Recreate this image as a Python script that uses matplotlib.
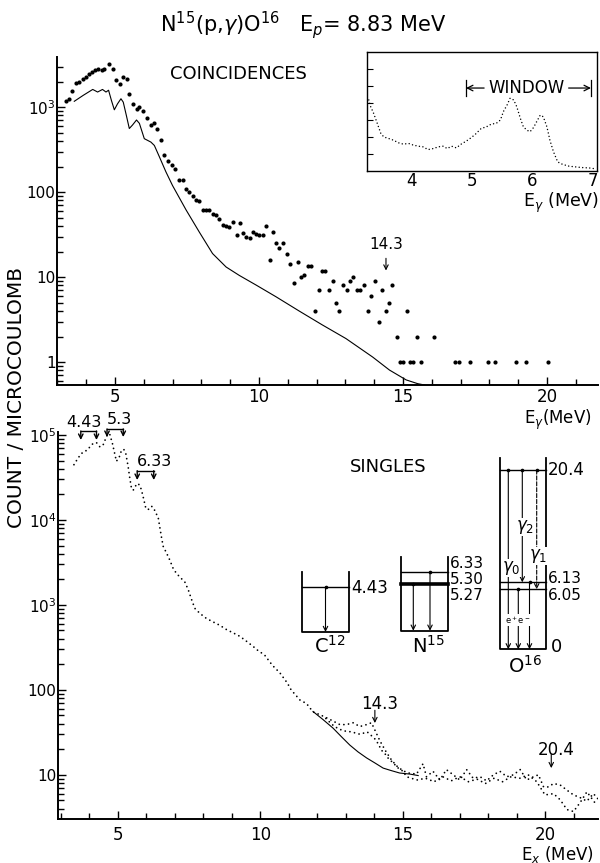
import numpy as np
import matplotlib
matplotlib.use("Agg")
import matplotlib.pyplot as plt
from matplotlib.ticker import MultipleLocator, LogLocator, NullFormatter

plt.rcParams['font.family'] = ['DejaVu Sans']
plt.rcParams['mathtext.fontset'] = 'dejavusans'

# --- coincidence spectrum (top panel), counts per microcoulomb ---
coinc_e = [3.30, 3.40, 3.51, 3.65, 3.76, 3.88, 4.00, 4.09, 4.20, 4.32,
           4.43, 4.55, 4.63, 4.78, 4.92, 5.04, 5.18, 5.29, 5.41, 5.50,
           5.64, 5.75, 5.85, 5.99, 6.10, 6.25, 6.37, 6.45, 6.60, 6.72,
           6.83, 6.98, 7.10, 7.24, 7.35, 7.47, 7.58, 7.70, 7.82, 7.91,
           8.07, 8.16, 8.28, 8.39, 8.51, 8.63, 8.76, 8.86, 8.97, 9.11,
           9.23, 9.34, 9.43, 9.55, 9.69, 9.78, 9.90, 10.01, 10.13, 10.25,
           10.38, 10.50, 10.59, 10.71, 10.82, 10.96, 11.08, 11.23, 11.34, 11.46,
           11.58, 11.69, 11.81, 11.96, 12.07, 12.19, 12.31, 12.42, 12.56, 12.68,
           12.79, 12.91, 13.05, 13.16, 13.28, 13.39, 13.51, 13.63, 13.77, 13.89,
           14.03, 14.16, 14.27, 14.41, 14.53, 14.62, 14.78, 14.90, 15.01, 15.13,
           15.25, 15.36, 15.49, 15.63, 16.09, 16.82, 16.96, 17.31, 17.94, 18.21,
           18.93, 19.27, 20.02]
coinc_counts = [1200, 1250, 1550, 1950, 2000, 2140, 2290, 2450, 2630, 2750,
                2850, 2750, 2850, 3240, 2850, 2090, 1900, 2290, 2140, 1450,
                1100, 955, 1020, 910, 740, 620, 645, 550, 410, 275,
                230, 210, 186, 138, 138, 110, 100, 91, 81, 78,
                62, 62, 62, 56, 54, 49, 41, 40, 39, 45,
                31, 43, 33, 30, 29, 34, 32, 31, 31, 40,
                16, 34, 25, 22, 25, 19, 14.5, 8.5, 15, 10,
                10.5, 13.5, 13.5, 4, 7, 12, 12, 7, 9, 5,
                4, 8, 7, 9, 10, 7, 7, 8, 4, 6,
                9, 3, 7, 4, 5, 8, 2, 1, 1, 4,
                1, 1, 2, 1, 2, 1, 1, 1, 1, 1,
                1, 1, 1]

# solid curve in the top panel
bkg_e = [3.59, 3.90, 4.23, 4.40, 4.57, 4.69, 4.78, 4.88, 4.98, 5.09,
         5.21, 5.29, 5.40, 5.50, 5.61, 5.75, 5.85, 6.02, 6.25, 6.37,
         6.54, 6.77, 7.00, 7.47, 7.93, 8.39, 8.86, 9.32, 9.90, 10.59,
         11.40, 12.20, 13.02, 13.95, 14.53, 15.11, 15.51, 15.75]
bkg_counts = [1175, 1380, 1620, 1510, 1620, 1510, 1585, 1200, 933, 1096,
              1259, 1148, 794, 562, 617, 708, 646, 427, 389, 355,
              263, 174, 120, 62, 34, 19, 13.2, 10.5, 8.1, 5.9,
              4.0, 2.75, 1.9, 1.15, 0.81, 0.62, 0.56, 0.54]

# --- inset: spectrum with the gate window (arbitrary units) ---
window_e = [3.29, 3.32, 3.37, 3.41, 3.45, 3.49, 3.54, 3.62, 3.70, 3.78,
            3.86, 3.95, 4.03, 4.11, 4.19, 4.27, 4.36, 4.44, 4.52, 4.59,
            4.66, 4.74, 4.82, 4.91, 4.99, 5.07, 5.15, 5.24, 5.32, 5.40,
            5.47, 5.52, 5.58, 5.63, 5.69, 5.74, 5.80, 5.85, 5.91, 5.96,
            6.02, 6.07, 6.13, 6.18, 6.24, 6.29, 6.35, 6.42, 6.50, 6.61,
            6.72, 6.83, 6.94, 7.02]
window_counts = [4.18, 3.79, 3.39, 3.0, 2.6, 2.2, 2.0, 1.91, 1.81, 1.66,
                 1.58, 1.62, 1.52, 1.46, 1.42, 1.26, 1.32, 1.42, 1.46, 1.32,
                 1.46, 1.36, 1.58, 1.77, 1.97, 2.21, 2.5, 2.6, 2.76, 2.8,
                 3.0, 3.5, 3.88, 4.28, 4.18, 3.79, 3.1, 2.6, 2.4, 2.31,
                 2.56, 2.9, 3.29, 3.19, 2.6, 1.81, 1.12, 0.53, 0.39, 0.28,
                 0.24, 0.2, 0.18, 0.14]

# --- singles spectrum (bottom panel) ---
singles_e = [3.46, 3.57, 3.67, 3.78, 3.92, 4.02, 4.13, 4.25, 4.37, 4.48,
             4.60, 4.66, 4.72, 4.81, 4.89, 4.95, 5.05, 5.13, 5.21, 5.28,
             5.36, 5.42, 5.48, 5.54, 5.60, 5.68, 5.77, 5.83, 5.89, 5.98,
             6.06, 6.18, 6.26, 6.33, 6.41, 6.47, 6.53, 6.59, 6.71, 6.82,
             6.94, 7.06, 7.23, 7.35, 7.47, 7.59, 7.70, 7.88, 8.11, 8.34,
             8.58, 8.81, 9.05, 9.28, 9.52, 9.75, 9.89, 10.15, 10.42, 10.69,
             10.95, 11.08, 11.39, 11.62, 11.85, 12.09, 12.32, 12.55, 12.79, 13.02,
             13.26, 13.49, 13.73, 13.90, 14.05, 14.20, 14.40, 14.60, 14.80, 15.00,
             15.20, 15.48, 15.71, 15.83, 16.06, 16.30, 16.53, 16.77, 17.00, 17.24,
             17.47, 17.71, 17.94, 18.18, 18.41, 18.65, 18.88, 19.12, 19.35, 19.59,
             19.76, 19.94, 20.11, 20.29, 20.52, 20.76, 20.99, 21.22, 21.46, 21.69,
             21.85]
singles_counts = [44700, 51300, 57500, 63100, 66100, 72400, 79400, 81300, 72400, 75900,
                  95500, 104000, 101000, 79400, 60300, 49000, 55000, 66100, 67600, 60300,
                  42700, 30900, 23400, 22400, 24500, 26900, 25700, 22400, 18600, 13800,
                  13200, 14500, 13800, 12000, 11000, 8300, 6300, 4900, 4070, 3390,
                  2690, 2340, 2040, 1860, 1510, 1150, 912, 794, 692, 631,
                  575, 513, 468, 427, 372, 324, 295, 257, 195, 158,
                  120, 100, 76, 69, 55, 51, 47, 43, 39, 39,
                  41, 37, 39, 41, 32, 25, 19, 15, 12.6, 11.2,
                  10.5, 10.2, 13.5, 9.5, 11, 8.7, 11.5, 10, 8.7, 11.5,
                  9.1, 9.5, 8.5, 10, 11, 9.5, 10, 11.5, 8.7, 9.5,
                  10, 7.2, 7.2, 7.9, 7.6, 6.6, 5.8, 5.4, 4.9, 6.0,
                  5.2]

# second (lower) dotted trace in the tail
singles2_e = [12.30, 12.60, 12.90, 13.20, 13.50, 13.75, 14.00, 14.13, 14.25, 14.37,
              14.48, 14.66, 14.84, 15.01, 15.13, 15.30, 15.50, 15.80, 16.10, 16.40,
              16.70, 17.00, 17.30, 17.60, 17.90, 18.20, 18.50, 18.80, 19.10, 19.40,
              19.70, 19.99, 20.29, 20.52, 20.76, 20.99, 21.22, 21.46, 21.74]
singles2_counts = [46, 37, 33, 32, 30, 32, 27, 23.4, 19.5, 17.8,
                   15.8, 13.8, 12, 11, 9.5, 9.1, 8.7, 9.1, 8.3, 9.5,
                   8.5, 9.5, 8.3, 8.9, 7.9, 9.1, 8.3, 9.5, 9.1, 10,
                   8.3, 5.8, 6.0, 5.1, 3.9, 3.7, 4.7, 6.3, 4.7]

# solid curve under the 14.3 bump
sbkg_e = [11.85, 12.20, 12.55, 12.85, 13.14, 13.43, 13.73, 14.02, 14.31, 14.60,
          14.89, 15.25, 15.54]
sbkg_counts = [55.6, 44.7, 35.5, 28.0, 22.4, 18.6, 15.8, 13.8, 12.0, 11.2,
               10.5, 10.2, 9.8]

top_ticks = [1, 10, 100, 1000]
top_ticklabels = ['1', '10', '100', r'$10^3$']
bot_ticks = [10, 100, 1000, 1e4, 1e5]
bot_ticklabels = ['10', '100', r'$10^3$', r'$10^4$', r'$10^5$']
x_ticks = [5, 10, 15, 20]
inset_ticks = [4, 5, 6, 7]

DOTS = (0, (0.01, 2.6))


def style_log(ax):
    for s in ('top', 'right'):
        ax.spines[s].set_visible(False)
    for s in ('left', 'bottom'):
        ax.spines[s].set_linewidth(1.4)
    ax.set_yscale('log')
    ax.xaxis.set_minor_locator(MultipleLocator(1))
    ax.yaxis.set_minor_locator(LogLocator(base=10, subs=np.arange(2, 10)))
    ax.yaxis.set_minor_formatter(NullFormatter())
    ax.tick_params(which='both', direction='in', width=1.0, labelsize=12)
    ax.tick_params(axis='y', labelsize=11)
    ax.tick_params(which='major', length=6)
    ax.tick_params(which='minor', length=4.5)


def down_arrow(ax, x, y0, y1, ls='-', lw=0.8):
    ax.annotate('', xy=(x, y1), xytext=(x, y0),
                arrowprops=dict(arrowstyle='->', lw=lw, ls=ls, color='k',
                                shrinkA=0, shrinkB=0, mutation_scale=8))


def bracket(ax, x1, x2, ybar, ytip, label, xt, yt):
    ax.plot([x1, x2], [ybar, ybar], color='k', lw=1.0, clip_on=False)
    down_arrow(ax, x1, ybar, ytip, lw=1.0)
    down_arrow(ax, x2, ybar, ytip, lw=1.0)
    ax.text(xt, yt, label, ha='center', va='center', fontsize=11.5)


fig = plt.figure(figsize=(6, 8.63), dpi=100)

# ---------------- top: coincidences ----------------
ax1 = fig.add_axes([57 / 600, 1 - 385 / 863, 541 / 600, 328 / 863])
style_log(ax1)
ax1.plot(coinc_e, coinc_counts, 'o', color='k', ms=3.0, mew=0)
ax1.plot(bkg_e, bkg_counts, color='k', lw=0.8)
ax1.set_xlim(2.99, 21.77)
ax1.set_ylim(0.54, 3900)
ax1.set_xticks(x_ticks)
ax1.set_yticks(top_ticks, top_ticklabels)
ax1.tick_params(axis='x', pad=2)
ax1.tick_params(axis='y', pad=1)
ax1.text(14.41, 24, '14.3', ha='center', va='center', fontsize=11)
down_arrow(ax1, 14.41, 16.7, 12.0)

# ---------------- inset: window ----------------
axi = fig.add_axes([367 / 600, 1 - 171 / 863, 230 / 600, 119 / 863])
axi.plot(window_e, window_counts, color='k', lw=1.1, ls=(0, (0.01, 2.3)),
         dash_capstyle='round')
axi.set_xlim(3.26, 7.07)
axi.set_ylim(0, 7)
axi.set_xticks(inset_ticks)
axi.set_yticks([1, 2, 3, 4, 5, 6], [])
axi.tick_params(axis='x', length=0, pad=1, labelsize=12)
axi.tick_params(axis='y', direction='in', length=4, width=0.8)
for s in axi.spines.values():
    s.set_linewidth(1.0)
axi.plot([4.9, 4.9], [4.41, 5.35], color='k', lw=0.9)
axi.plot([6.97, 6.97], [4.41, 5.35], color='k', lw=0.9)
axi.text(5.9, 4.88, 'WINDOW', ha='center', va='center', fontsize=12)
axi.annotate('', xy=(4.9, 4.88), xytext=(5.2, 4.88),
             arrowprops=dict(arrowstyle='->', lw=0.9, shrinkA=0, shrinkB=0))
axi.annotate('', xy=(6.97, 4.88), xytext=(6.6, 4.88),
             arrowprops=dict(arrowstyle='->', lw=0.9, shrinkA=0, shrinkB=0))

# ---------------- bottom: singles ----------------
ax2 = fig.add_axes([58 / 600, 1 - 819 / 863, 540 / 600, 387 / 863])
style_log(ax2)
ax2.plot(singles_e, singles_counts, color='k', lw=1.3, ls=DOTS,
         dash_capstyle='round')
ax2.plot(singles2_e, singles2_counts, color='k', lw=1.3, ls=DOTS,
         dash_capstyle='round')
ax2.plot(sbkg_e, sbkg_counts, color='k', lw=0.8)
ax2.set_xlim(2.9, 21.85)
ax2.set_ylim(3.02, 1.084e5)
ax2.set_xticks(x_ticks)
ax2.set_yticks(bot_ticks, bot_ticklabels)
ax2.tick_params(axis='x', pad=5)
ax2.tick_params(axis='y', pad=1)

bracket(ax2, 3.70, 4.25, 111400, 87300, '4.43', 3.82, 140300)
bracket(ax2, 4.62, 5.19, 117800, 94600, '5.3', 5.05, 151400)
bracket(ax2, 5.68, 6.26, 38000, 29500, '6.33', 6.30, 49000)
ax2.text(14.19, 69, '14.3', ha='center', va='center', fontsize=12)
down_arrow(ax2, 14.02, 57.5, 40.7)
ax2.text(20.39, 19.5, '20.4', ha='center', va='center', fontsize=12)
down_arrow(ax2, 20.21, 17.4, 12.0)

# ---------------- free text and level schemes (pixel coords) ----------------
ov = fig.add_axes([0, 0, 1, 1])
ov.set_xlim(0, 600)
ov.set_ylim(863, 0)
ov.axis('off')

ov.text(303, 25, r'N$^{15}$(p,$\gamma$)O$^{16}$   E$_p$= 8.83 MeV',
        ha='center', va='center', fontsize=15)
ov.text(170, 74, 'COINCIDENCES', ha='left', va='center', fontsize=13)
ov.text(388, 467, 'SINGLES', ha='center', va='center', fontsize=13)
ov.text(17, 397, 'COUNT / MICROCOULOMB', rotation=90, ha='center',
        va='center', fontsize=14.5)
ov.text(592, 420, r'E$_\gamma$(MeV)', ha='right', va='center', fontsize=12)
ov.text(594, 854, r'E$_x$ (MeV)', ha='right', va='center', fontsize=12)
ov.text(599, 203, r'E$_\gamma$ (MeV)', ha='right', va='center', fontsize=12.5)


def box(x0, x1, top, bottom):
    ov.plot([x0, x0, x1, x1], [top, bottom, bottom, top], color='k', lw=1.3)


def level(x0, x1, y, lw=1.0):
    ov.plot([x0, x1], [y, y], color='k', lw=lw)


def gamma(x, y0, y1, ls='-'):
    down_arrow(ov, x, y0, y1, ls=ls, lw=0.8)
    ov.plot([x], [y0], 'o', color='k', ms=2.6, mew=0)


# C12
box(302, 348.6, 572, 632)
level(302, 348.6, 587)
gamma(325.5, 587, 632)
ov.text(351, 588, '4.43', ha='left', va='center', fontsize=12)
ov.text(330, 646, r'C$^{12}$', ha='center', va='center', fontsize=14)

# N15
box(400.7, 448.3, 556.7, 630.7)
level(400.7, 448.3, 571.7)
level(400.7, 448.3, 584.3, lw=2.6)
gamma(430, 571.7, 630.7)
gamma(413.3, 584.3, 630.7)
ov.text(450, 563, '6.33', ha='left', va='center', fontsize=11)
ov.text(450, 579.5, '5.30', ha='left', va='center', fontsize=11)
ov.text(450, 595.5, '5.27', ha='left', va='center', fontsize=11)
ov.text(428, 646, r'N$^{15}$', ha='center', va='center', fontsize=14)

# O16
box(500, 545.7, 458, 649.3)
level(500, 545.7, 470)
level(500, 545.7, 582.3)
level(500, 545.7, 589.3)
gamma(508.3, 470, 649.3)
gamma(522.3, 470, 582.3)
gamma(536.7, 470, 589.3, ls='--')
gamma(518.3, 589.3, 649.3)
gamma(529.5, 582.3, 649.3)
ov.text(548, 470, '20.4', ha='left', va='center', fontsize=12)
ov.text(548, 578, '6.13', ha='left', va='center', fontsize=11)
ov.text(548, 595.5, '6.05', ha='left', va='center', fontsize=11)
ov.text(551, 647, '0', ha='left', va='center', fontsize=13)
ov.text(525, 666, r'O$^{16}$', ha='center', va='center', fontsize=14)
wb = dict(facecolor='white', edgecolor='none', pad=0.3)
ov.text(511, 568, r'$\gamma_0$', ha='center', va='center', fontsize=12, bbox=wb)
ov.text(525, 527, r'$\gamma_2$', ha='center', va='center', fontsize=12, bbox=wb)
ov.text(538, 556, r'$\gamma_1$', ha='center', va='center', fontsize=12, bbox=wb)
ov.text(518, 620, r'e$^+$e$^-$', ha='center', va='center', fontsize=6, bbox=wb)

fig.savefig('out.png', dpi=100)
